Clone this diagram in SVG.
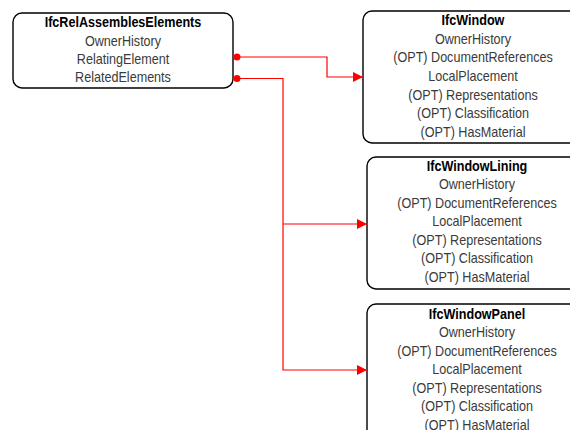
<svg xmlns="http://www.w3.org/2000/svg" width="570" height="430" viewBox="0 0 570 430">
<defs>
<style>
.box{fill:#fff;stroke:#000;stroke-width:1.4}
.t{font-family:"Liberation Sans",Arial,sans-serif;font-size:14px;text-anchor:middle;fill:#3a3a3a}
.h{font-weight:bold;fill:#000}
.c{fill:none;stroke:#f00;stroke-width:1.2}
.dot{fill:#f00}
</style>
<marker id="arr" viewBox="0 0 10 10" refX="10" refY="5" markerWidth="10" markerHeight="10" markerUnits="userSpaceOnUse" orient="auto">
<path d="M0,0 L10,5 L0,10 z" fill="#f00"/>
</marker>
</defs>
<rect width="570" height="430" fill="#fff"/>
<g id="IfcRelAssemblesElements">
<rect class="box" x="13" y="13" width="220" height="75" rx="9"/>
<g transform="translate(123,0) scale(0.9,1)">
<text class="t h" x="0" y="27">IfcRelAssemblesElements</text>
<text class="t" x="0" y="46">OwnerHistory</text>
<text class="t" x="0" y="64">RelatingElement</text>
<text class="t" x="0" y="82">RelatedElements</text>
</g>
</g>
<g id="IfcWindow">
<rect class="box" x="363" y="11" width="220" height="132" rx="9"/>
<g transform="translate(473,0) scale(0.9,1)">
<text class="t h" x="0" y="25">IfcWindow</text>
<text class="t" x="0" y="44">OwnerHistory</text>
<text class="t" x="0" y="62">(OPT)  DocumentReferences</text>
<text class="t" x="0" y="81">LocalPlacement</text>
<text class="t" x="0" y="100">(OPT)  Representations</text>
<text class="t" x="0" y="118.5">(OPT)  Classification</text>
<text class="t" x="0" y="137">(OPT)  HasMaterial</text>
</g>
</g>
<g id="IfcWindowLining">
<rect class="box" x="367" y="157" width="220" height="132" rx="9"/>
<g transform="translate(477,0) scale(0.9,1)">
<text class="t h" x="0" y="171.5">IfcWindowLining</text>
<text class="t" x="0" y="189">OwnerHistory</text>
<text class="t" x="0" y="208">(OPT)  DocumentReferences</text>
<text class="t" x="0" y="226">LocalPlacement</text>
<text class="t" x="0" y="245">(OPT)  Representations</text>
<text class="t" x="0" y="263.5">(OPT)  Classification</text>
<text class="t" x="0" y="282">(OPT)  HasMaterial</text>
</g>
</g>
<g id="IfcWindowPanel">
<rect class="box" x="367" y="304" width="220" height="140" rx="9"/>
<g transform="translate(477,0) scale(0.9,1)">
<text class="t h" x="0" y="319">IfcWindowPanel</text>
<text class="t" x="0" y="337">OwnerHistory</text>
<text class="t" x="0" y="356">(OPT)  DocumentReferences</text>
<text class="t" x="0" y="374">LocalPlacement</text>
<text class="t" x="0" y="393">(OPT)  Representations</text>
<text class="t" x="0" y="411">(OPT)  Classification</text>
<text class="t" x="0" y="430">(OPT)  HasMaterial</text>
</g>
</g>
<g id="connectors">
<path class="c" d="M237,57 H327 V77 H363" marker-end="url(#arr)"/>
<path class="c" d="M237,78.5 H283 V370 H367" marker-end="url(#arr)"/>
<path class="c" d="M283,224 H367" marker-end="url(#arr)"/>
<circle class="dot" cx="237" cy="57" r="3.5"/>
<circle class="dot" cx="237" cy="78.5" r="3.5"/>
</g>
</svg>
